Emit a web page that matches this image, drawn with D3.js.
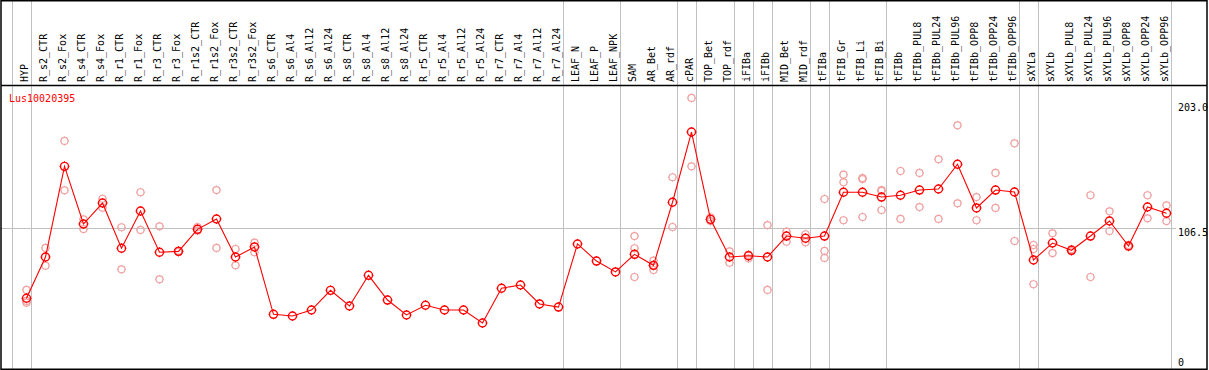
<!DOCTYPE html>
<html lang="en">
<head>
<meta charset="UTF-8">
<title>Lus10020395</title>
<script src="https://d3js.org/d3.v7.min.js"></script>
<style>
  body { margin: 0; background: #fff; }
  text { font-family: "DejaVu Sans Mono", monospace; font-size: 10px; }
  .sep { stroke: #c0c0c0; stroke-width: 1; }
  .frame { stroke: #000; stroke-width: 1.5; fill: none; }
</style>
</head>
<body>
<svg width="1209" height="370"></svg>
<script>
// sample names (x categories)
const samples = ["HYP","R_s2_CTR","R_s2_Fox","R_s4_CTR","R_s4_Fox","R_r1_CTR","R_r1_Fox","R_r3_CTR","R_r3_Fox",
  "R_r1s2_CTR","R_r1s2_Fox","R_r3s2_CTR","R_r3s2_Fox","R_s6_CTR","R_s6_Al4","R_s6_Al12","R_s6_Al24",
  "R_s8_CTR","R_s8_Al4","R_s8_Al12","R_s8_Al24","R_r5_CTR","R_r5_Al4","R_r5_Al12","R_r5_Al24",
  "R_r7_CTR","R_r7_Al4","R_r7_Al12","R_r7_Al24","LEAF_N","LEAF_P","LEAF_NPK","SAM","AR_Bet","AR_rdf",
  "cPAR","TOP_Bet","TOP_rdf","iFIBa","iFIBb","MID_Bet","MID_rdf","tFIBa","tFIB_Gr","tFIB_Li","tFIB_Bi",
  "tFIBb","tFIBb_PUL8","tFIBb_PUL24","tFIBb_PUL96","tFIBb_OPP8","tFIBb_OPP24","tFIBb_OPP96",
  "sXYLa","sXYLb","sXYLb_PUL8","sXYLb_PUL24","sXYLb_PUL96","sXYLb_OPP8","sXYLb_OPP24","sXYLb_OPP96"];

// mean expression per sample
const means = [52.3,84.1,154.1,109.6,125.8,90.9,119.6,87.8,88.5,105.5,113.5,84.1,91.9,
  39.9,38.6,43.2,58.4,46.3,70.0,50.9,39.4,46.9,43.2,43.2,33.2,60.0,62.5,47.9,45.5,
  94.2,81.0,72.6,86.2,77.7,126.4,180.6,113.2,84.1,85.1,84.1,100.3,98.6,100.3,
  134.1,134.1,130.4,131.8,135.8,136.6,155.7,122.0,135.8,134.3,
  81.8,94.9,89.3,100.3,111.9,92.6,122.7,117.9];

// individual replicates per sample (empty where none shown)
const replicates = [
  [58.7,50.2,48.9],[91.1,77.4],[173.7,135.6],[113.2,105.7],[129.1,122.2],[107.1,74.6],[134.1,105.0],
  [107.8,66.9],[89.0,88.0],[107.3,104.4],[135.8,91.1],[90.3,77.7],[95.2,87.8],
  [],[],[],[],[],[],[],[],[],[],[],[],[],[],[],[],
  [],[],[],[100.3,90.9,68.7],[81.3,77.7,74.1],[145.7,107.3],[206.9,154.1],[114.8,111.9],
  [88.5,79.7],[85.9,83.1],[108.8,58.7],[103.7,95.9],[101.7,95.5],[128.9,88.8,83.4],
  [147.7,141.8,112.5],[145.1,144.3,115.0],[135.8,135.1,120.4],[150.5,113.5],
  [149.0,122.7],[159.5,113.5],[185.8,125.6],[130.4,112.5],[149.0,122.0],[171.9,96.5],
  [93.4,90.3,63.1],[102.4,87.2],[90.1,88.5],[131.8,68.7],[119.4,104.2],[93.4,91.9],
  [131.8,114.0],[124.0,111.9]];

// group separators: drawn just after these sample indexes
const separators = [-1,0,28,31,34,35,37,38,39,41,42,45,52,53,60];

const yTicks = [203.0,106.5,0];
const geneName = "Lus10020395";

const width = 1209, height = 370;
const headerBottom = 85;

const svg = d3.select("svg");

const x = d3.scaleLinear().domain([0, samples.length - 1]).range([26.5, 26.5 + 19 * (samples.length - 1)]);
const y = d3.scaleLinear().domain([0, 203]).range([366, 103]);

// vertical group lines
svg.selectAll(".sep.v")
  .data(separators)
  .enter().append("line")
  .attr("class", "sep v")
  .attr("x1", d => Math.round(x(d) + 4) + 0.5)
  .attr("x2", d => Math.round(x(d) + 4) + 0.5)
  .attr("y1", 0)
  .attr("y2", height);

// mid gridline
svg.append("line")
  .attr("class", "sep")
  .attr("x1", 0).attr("x2", 1176)
  .attr("y1", Math.round(y(106.5)) + 0.5)
  .attr("y2", Math.round(y(106.5)) + 0.5);

// sample labels, rotated
svg.selectAll(".lab")
  .data(samples)
  .enter().append("text")
  .attr("class", "lab")
  .attr("transform", (d, i) => "translate(" + (x(i) + 1.5) + "," + (headerBottom - 3) + ") rotate(-90)")
  .attr("fill", "#000")
  .text(d => d);

// right axis labels
svg.selectAll(".ytick")
  .data(yTicks)
  .enter().append("text")
  .attr("class", "ytick")
  .attr("x", 1178)
  .attr("y", d => Math.min(y(d) + 8, 366))
  .attr("fill", "#000")
  .text(d => d === 0 ? "0" : d.toFixed(1));

// replicate markers
const reps = [];
replicates.forEach((r, i) => r.forEach(v => reps.push({ i: i, v: v })));

function marker(g, col, r, sw) {
  g.append("circle").attr("r", r).attr("fill", "none").attr("stroke", col).attr("stroke-width", sw);
  g.append("path")
    .attr("d", "M0," + (-r - 1) + "V" + (-r) + "M0," + r + "V" + (r + 1)
      + "M" + (-r - 1) + ",0H" + (-r) + "M" + r + ",0H" + (r + 1))
    .attr("stroke", col).attr("stroke-width", 1);
}

svg.selectAll(".rep")
  .data(reps)
  .enter().append("g")
  .attr("class", "rep")
  .attr("transform", d => "translate(" + x(d.i) + "," + y(d.v) + ")")
  .each(function() { marker(d3.select(this), "#f0a0a0", 3.5, 1.2); });

// mean line
const line = d3.line()
  .x((d, i) => x(i))
  .y(d => y(d));

svg.append("path")
  .datum(means)
  .attr("d", line)
  .attr("fill", "none")
  .attr("stroke", "#ff0000")
  .attr("stroke-width", 1.1);

svg.selectAll(".mean")
  .data(means)
  .enter().append("g")
  .attr("class", "mean")
  .attr("transform", (d, i) => "translate(" + x(i) + "," + y(d) + ")")
  .each(function() { marker(d3.select(this), "#ff0000", 4, 1.4); });

// gene name
svg.append("text")
  .attr("x", 9)
  .attr("y", 102)
  .attr("fill", "#ff0000")
  .text(geneName);

// frame
svg.append("rect").attr("class", "frame").attr("x", 1).attr("y", 0.75).attr("width", 1206).attr("height", 368.5);
svg.append("line").attr("class", "frame").attr("x1", 1).attr("x2", 1207).attr("y1", headerBottom + 0.5).attr("y2", headerBottom + 0.5);
</script>
</body>
</html>
